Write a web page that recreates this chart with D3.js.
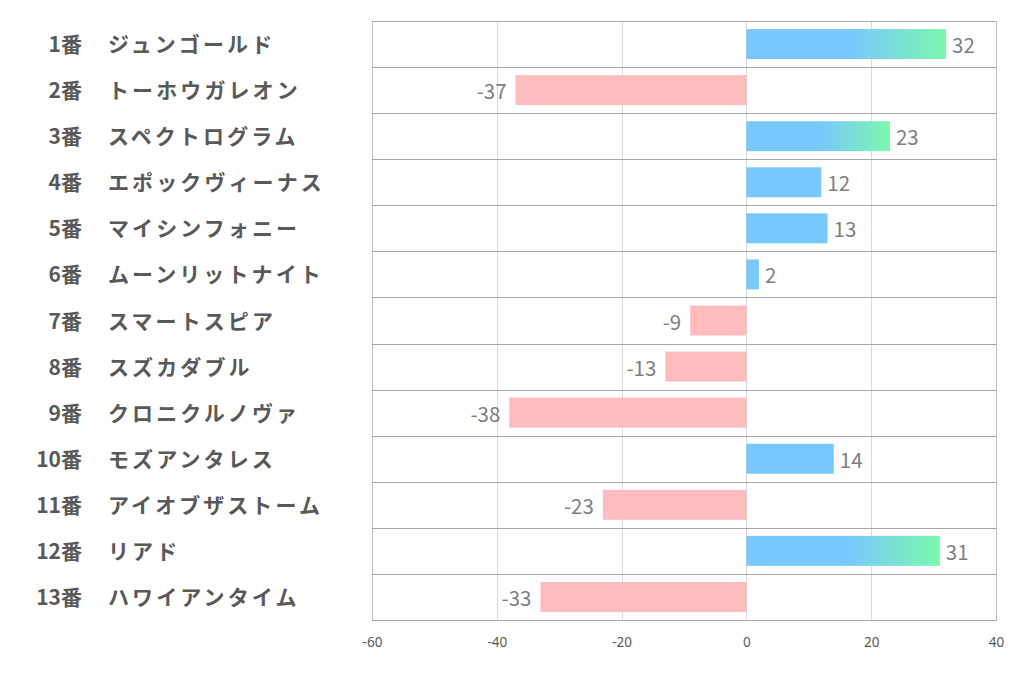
<!DOCTYPE html>
<html><head><meta charset="utf-8">
<script src="https://cdn.jsdelivr.net/npm/d3@7"></script>
<style>body{margin:0;background:#fff}svg{display:block}</style>
</head><body>
<svg id="c" width="1022" height="678"></svg>
<script>
const numbers = ["1番","2番","3番","4番","5番","6番","7番","8番","9番","10番","11番","12番","13番"];
const names = ["ジュンゴールド","トーホウガレオン","スペクトログラム","エポックヴィーナス","マイシンフォニー","ムーンリットナイト","スマートスピア","スズカダブル","クロニクルノヴァ","モズアンタレス","アイオブザストーム","リアド","ハワイアンタイム"];
const values = [32,-37,23,12,13,2,-9,-13,-38,14,-23,31,-33];
const xTicks = [-60,-40,-20,0,20,40];

(function(){
const svg = d3.select("#c");
const L = 372, R = 996, T = 21, B = 620;
const x = d3.scaleLinear().domain([-60,40]).range([L,R]);
const y = d3.scaleBand().domain(numbers).range([T,B]).paddingInner(0.35).paddingOuter(0.175);
const rowY = d3.scaleBand().domain(numbers).range([T,B]);

const defs = svg.append("defs");
const g = defs.append("linearGradient").attr("id","gb").attr("x1","0").attr("x2","1").attr("y1","0").attr("y2","0");
g.append("stop").attr("offset","0").attr("stop-color","#78c8fd");
g.append("stop").attr("offset","0.52").attr("stop-color","#78c8fd");
g.append("stop").attr("offset","1").attr("stop-color","#7bf8ac");

svg.append("g").selectAll("line").data(xTicks).join("line")
  .attr("x1",d=>Math.round(x(d))+0.5).attr("x2",d=>Math.round(x(d))+0.5)
  .attr("y1",T).attr("y2",B)
  .attr("stroke",d=>(d===-60||d===40)?"#bfbfbf":"#d9d9d9").attr("stroke-width",1);

const hl = numbers.map(n=>rowY(n)).concat([B]);
svg.append("g").selectAll("line").data(hl).join("line")
  .attr("x1",L).attr("x2",R+1)
  .attr("y1",d=>Math.round(d)+0.5).attr("y2",d=>Math.round(d)+0.5)
  .attr("stroke","#a6a6a6").attr("stroke-width",1);

svg.append("g").selectAll("rect").data(values).join("rect")
  .attr("x",d=>x(Math.min(0,d)))
  .attr("width",d=>Math.abs(x(d)-x(0)))
  .attr("y",(d,i)=>y(numbers[i]))
  .attr("height",y.bandwidth())
  .attr("fill",d=>d>=20?"url(#gb)":(d>0?"#78c8fd":"#ffbcbe"));

svg.append("g").selectAll("text").data(values).join("text")
  .attr("x",d=>d>=0?x(d)+6:x(d)-9)
  .attr("y",(d,i)=>rowY(numbers[i])+rowY.bandwidth()/2)
  .attr("text-anchor",d=>d>=0?"start":"end")
  .attr("dominant-baseline","central")
  .attr("font-family","'Noto Sans CJK JP','Noto Sans',sans-serif")
  .attr("font-size",20.5).attr("fill","#7f7f7f")
  .text(d=>String(d));

const lab = svg.append("g").attr("font-family","'Noto Sans CJK JP',sans-serif")
  .attr("font-size",21).attr("font-weight","bold").attr("fill","#595959");
lab.selectAll("text.n").data(numbers).join("text").attr("class","n")
  .attr("x",82).attr("text-anchor","end")
  .attr("y",d=>rowY(d)+rowY.bandwidth()/2-1)
  .attr("dominant-baseline","central").text(d=>d);
lab.selectAll("text.m").data(names).join("text").attr("class","m")
  .attr("x",108).attr("text-anchor","start").attr("letter-spacing",3.1)
  .attr("y",(d,i)=>rowY(numbers[i])+rowY.bandwidth()/2-1)
  .attr("dominant-baseline","central").text(d=>d);

const ax = svg.append("g").attr("transform",`translate(0,${B})`)
  .call(d3.axisBottom(x).tickValues(xTicks).tickFormat(d=>String(d)).tickSize(0).tickPadding(17));
ax.select(".domain").remove();
ax.selectAll("text").attr("font-family","'Noto Sans','Open Sans',sans-serif").attr("font-size",13.5).attr("fill","#595959");
})();
</script>
</body></html>
